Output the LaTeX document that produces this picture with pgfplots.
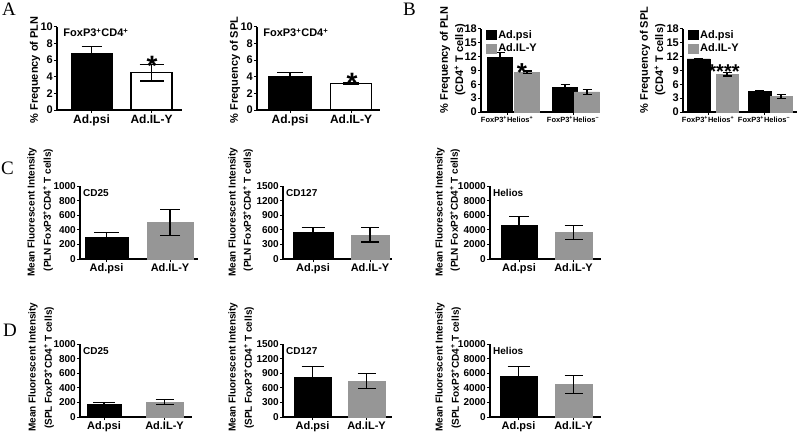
\documentclass[border=0pt]{standalone}
\usepackage{pgfplots}
\pgfplotsset{compat=1.18}
\usepackage{fontspec}
\setmainfont{Liberation Sans}
\newfontfamily\seriffont{Liberation Serif}
\definecolor{pgray}{RGB}{150,150,150}
\newcommand{\fs}[1]{\fontsize{#1bp}{#1bp}\selectfont}
\pgfplotsset{
  prism/.style={
    scale only axis, clip=false,
    axis x line*=bottom, axis y line*=left,
    axis line style={line width=1.1bp,-},
    xmin=0, ymin=0, enlargelimits=false,
    scaled y ticks=false,
    tick align=outside,
    major tick length=3bp,
    every tick/.style={line width=1bp, black},
    /pgf/number format/assume math mode=true,
    /pgf/number format/1000 sep={},
    yticklabel style={font=\bfseries\fs{11}, inner sep=1bp},
    xticklabel style={font=\bfseries\fs{12}, inner sep=1.5bp},
    anchor=south west,
    ybar, bar shift=0pt,
  },
  eb/.style={error bars/.cd, y dir=both, y explicit,
    error bar style={draw=black, line width=1.1bp},
    error mark options={rotate=90, draw=black, line width=1.1bp, mark size=#1bp}},
  crow/.style={prism, height=73bp, xtick={#1},
    yticklabel style={font=\bfseries\fs{10}},
    xticklabel style={font=\bfseries\fs{11}},
    xticklabels={Ad.psi,Ad.IL-Y}},
  blg/.style={legend style={at={(axis description cs:0.04,1.01)}, anchor=north west, draw=none, fill=none,
      font=\bfseries\fs{11}, inner sep=0pt, row sep=0bp, cells={anchor=west}},
    legend image code/.code={\fill[##1,/tikz/.cd] (0bp,-4.5bp) rectangle (10bp,4.5bp);}},
}
\begin{document}
\begin{tikzpicture}
\useasboundingbox (0,0) rectangle (800bp,-443bp);
% panel letters
\node[font=\seriffont\fs{19}, anchor=north west, inner sep=0] at (2bp,-3bp) {A};
\node[font=\seriffont\fs{19}, anchor=north west, inner sep=0] at (403bp,-3bp) {B};
\node[font=\seriffont\fs{19}, anchor=north west, inner sep=0] at (1bp,-162bp) {C};
\node[font=\seriffont\fs{19}, anchor=north west, inner sep=0] at (3bp,-324bp) {D};

% ---------- A1
\begin{axis}[prism, at={(57bp,-110bp)}, width=125bp, height=83bp, xmax=125, ymax=10,
  ytick={0,2,...,10}, xtick={34.5,94.5}, xticklabels={Ad.psi,Ad.IL-Y}]
\addplot[fill=black, draw=black, bar width=41, eb=10] coordinates {(34.5,6.8) +- (0,0.9)};
\addplot[fill=white, draw=black, line width=1.1bp, bar width=41, eb=12] coordinates {(94.5,4.5) +- (0,1.0)};
\node[font=\bfseries\fs{28}, anchor=base, inner sep=0] at (axis cs:95,4.2) {*};
\node[font=\bfseries\fs{11}, anchor=west, inner sep=0] at (axis description cs:0.05,0.93) {FoxP3\textsuperscript{+}CD4\textsuperscript{+}};
\end{axis}
\node[rotate=90, font=\bfseries\fs{11}] at (35bp,-70bp) {\% Frequency of PLN};

% ---------- A2
\begin{axis}[prism, at={(257bp,-110bp)}, width=123bp, height=83bp, xmax=123, ymax=10,
  ytick={0,2,...,10}, xtick={33,94}, xticklabels={Ad.psi,Ad.IL-Y}]
\addplot[fill=black, draw=black, bar width=43, eb=13] coordinates {(33,4.1) +- (0,0.45)};
\addplot[fill=white, draw=black, line width=1.1bp, bar width=41, eb=8] coordinates {(94,3.2) +- (0,0.1)};
\node[font=\bfseries\fs{28}, anchor=base, inner sep=0] at (axis cs:95,2.1) {*};
\node[font=\bfseries\fs{11}, anchor=west, inner sep=0] at (axis description cs:0.05,0.93) {FoxP3\textsuperscript{+}CD4\textsuperscript{+}};
\end{axis}
\node[rotate=90, font=\bfseries\fs{11}] at (235bp,-70bp) {\% Frequency of SPL};

% ---------- B1
\begin{axis}[prism, blg, at={(481bp,-112bp)}, width=117bp, height=83bp, xmax=117, ymax=18,
  ytick={0,3,...,18}, xtick={26,92},
  xticklabels={FoxP3\textsuperscript{+}Helios\textsuperscript{+}, FoxP3\textsuperscript{+}Helios\textsuperscript{−}},
  xticklabel style={font=\bfseries\fs{7.5}}]
\addplot[fill=black, draw=black, bar width=25, eb=4.5] coordinates {(19,11.8) +- (0,1.2) (84,5.3) +- (0,0.6)};
\addplot[fill=pgray, draw=pgray, bar width=25, eb=4.5] coordinates {(46,8.6) +- (0,0.3) (106,4.35) +- (0,0.55)};
\legend{Ad.psi,Ad.IL-Y}
\node[font=\bfseries\fs{26}, anchor=base, inner sep=0] at (axis cs:41,6.7) {*};
\end{axis}
\node[rotate=90, font=\bfseries\fs{11}] at (445bp,-60bp) {\% Frequency of PLN};
\node[rotate=90, font=\bfseries\fs{11}] at (460bp,-60bp) {(CD4\textsuperscript{+} T cells)};

% ---------- B2
\begin{axis}[prism, blg, at={(683bp,-112bp)}, width=114bp, height=83bp, xmax=114, ymax=18,
  ytick={0,3,...,18}, xtick={25,81},
  xticklabels={FoxP3\textsuperscript{+}Helios\textsuperscript{+}, FoxP3\textsuperscript{+}Helios\textsuperscript{−}},
  xticklabel style={font=\bfseries\fs{7.5}}]
\addplot[fill=black, draw=black, bar width=23, eb=4.5] coordinates {(15.5,11.5) +- (0,0.15) (76.5,4.5) +- (0,0.1)};
\addplot[fill=pgray, draw=pgray, bar width=22, eb=4.5] coordinates {(44,8.2) +- (0,0.4) (98,3.4) +- (0,0.4)};
\legend{Ad.psi,Ad.IL-Y}
\node[font=\bfseries\fs{20}, anchor=base, inner sep=0] at (axis cs:41,7.3) {****};
\end{axis}
\node[rotate=90, font=\bfseries\fs{11}] at (645bp,-60bp) {\% Frequency of SPL};
\node[rotate=90, font=\bfseries\fs{11}] at (660bp,-60bp) {(CD4\textsuperscript{+} T cells)};

% ---------- C1
\begin{axis}[crow={26.5,90}, at={(80bp,-259bp)}, width=118bp, xmax=118, ymax=1000, ytick={0,200,...,1000}]
\addplot[fill=black, draw=black, bar width=43, eb=12.5] coordinates {(26.5,295) +- (0,70)};
\addplot[fill=pgray, draw=pgray, bar width=46, eb=10] coordinates {(90,500) +- (0,180)};
\node[font=\bfseries\fs{10}, anchor=west, inner sep=0, xshift=3bp] at (axis description cs:0,0.9) {CD25};
\end{axis}
\node[rotate=90, font=\bfseries\fs{10}] at (32bp,-212bp) {Mean Fluorescent Intensity};
\node[rotate=90, font=\bfseries\fs{10}] at (48bp,-210bp) {(PLN FoxP3\textsuperscript{+}CD4\textsuperscript{+} T cells)};

% ---------- C2
\begin{axis}[crow={30,87}, at={(283bp,-259bp)}, width=109bp, xmax=109, ymax=1500, ytick={0,300,...,1500}]
\addplot[fill=black, draw=black, bar width=40, eb=11.5] coordinates {(30,555) +- (0,85)};
\addplot[fill=pgray, draw=pgray, bar width=38, eb=9] coordinates {(87,495) +- (0,145)};
\node[font=\bfseries\fs{10}, anchor=west, inner sep=0, xshift=3bp] at (axis description cs:0,0.9) {CD127};
\end{axis}
\node[rotate=90, font=\bfseries\fs{10}] at (233bp,-212bp) {Mean Fluorescent Intensity};
\node[rotate=90, font=\bfseries\fs{10}] at (248bp,-210bp) {(PLN FoxP3\textsuperscript{+}CD4\textsuperscript{+} T cells)};

% ---------- C3
\begin{axis}[crow={29,83.5}, at={(490bp,-259bp)}, width=111bp, xmax=111, ymax=10000, ytick={0,2000,...,10000}]
\addplot[fill=black, draw=black, bar width=36, eb=10] coordinates {(29,4680) +- (0,1150)};
\addplot[fill=pgray, draw=pgray, bar width=37, eb=9] coordinates {(83.5,3650) +- (0,980)};
\node[font=\bfseries\fs{10}, anchor=west, inner sep=0, xshift=3bp] at (axis description cs:0,0.9) {Helios};
\end{axis}
\node[rotate=90, font=\bfseries\fs{10}] at (440bp,-212bp) {Mean Fluorescent Intensity};
\node[rotate=90, font=\bfseries\fs{10}] at (455bp,-210bp) {(PLN FoxP3\textsuperscript{+}CD4\textsuperscript{+} T cells)};

% ---------- D1
\begin{axis}[crow={24,84.5}, at={(80bp,-417bp)}, width=112bp, xmax=112, ymax=1000, ytick={0,200,...,1000}]
\addplot[fill=black, draw=black, bar width=34, eb=11] coordinates {(24,170) +- (0,25)};
\addplot[fill=pgray, draw=pgray, bar width=37, eb=9] coordinates {(84.5,205) +- (0,30)};
\node[font=\bfseries\fs{10}, anchor=west, inner sep=0, xshift=3bp] at (axis description cs:0,0.9) {CD25};
\end{axis}
\node[rotate=90, font=\bfseries\fs{10}] at (33bp,-367bp) {Mean Fluorescent Intensity};
\node[rotate=90, font=\bfseries\fs{10}] at (49bp,-368bp) {(SPL FoxP3\textsuperscript{+}CD4\textsuperscript{+} T cells)};

% ---------- D2
\begin{axis}[crow={29.5,83.5}, at={(283bp,-417bp)}, width=109bp, xmax=109, ymax=1500, ytick={0,300,...,1500}]
\addplot[fill=black, draw=black, bar width=37, eb=11] coordinates {(29.5,810) +- (0,235)};
\addplot[fill=pgray, draw=pgray, bar width=37, eb=9] coordinates {(83.5,740) +- (0,160)};
\node[font=\bfseries\fs{10}, anchor=west, inner sep=0, xshift=3bp] at (axis description cs:0,0.9) {CD127};
\end{axis}
\node[rotate=90, font=\bfseries\fs{10}] at (233bp,-367bp) {Mean Fluorescent Intensity};
\node[rotate=90, font=\bfseries\fs{10}] at (249bp,-368bp) {(SPL FoxP3\textsuperscript{+}CD4\textsuperscript{+} T cells)};

% ---------- D3
\begin{axis}[crow={28.5,83.5}, at={(490bp,-417bp)}, width=111bp, xmax=111, ymax=10000, ytick={0,2000,...,10000}]
\addplot[fill=black, draw=black, bar width=37, eb=11] coordinates {(28.5,5650) +- (0,1300)};
\addplot[fill=pgray, draw=pgray, bar width=37, eb=9] coordinates {(83.5,4450) +- (0,1250)};
\node[font=\bfseries\fs{10}, anchor=west, inner sep=0, xshift=3bp] at (axis description cs:0,0.9) {Helios};
\end{axis}
\node[rotate=90, font=\bfseries\fs{10}] at (440bp,-367bp) {Mean Fluorescent Intensity};
\node[rotate=90, font=\bfseries\fs{10}] at (456bp,-368bp) {(SPL FoxP3\textsuperscript{+}CD4\textsuperscript{+} T cells)};
\end{tikzpicture}
\end{document}
